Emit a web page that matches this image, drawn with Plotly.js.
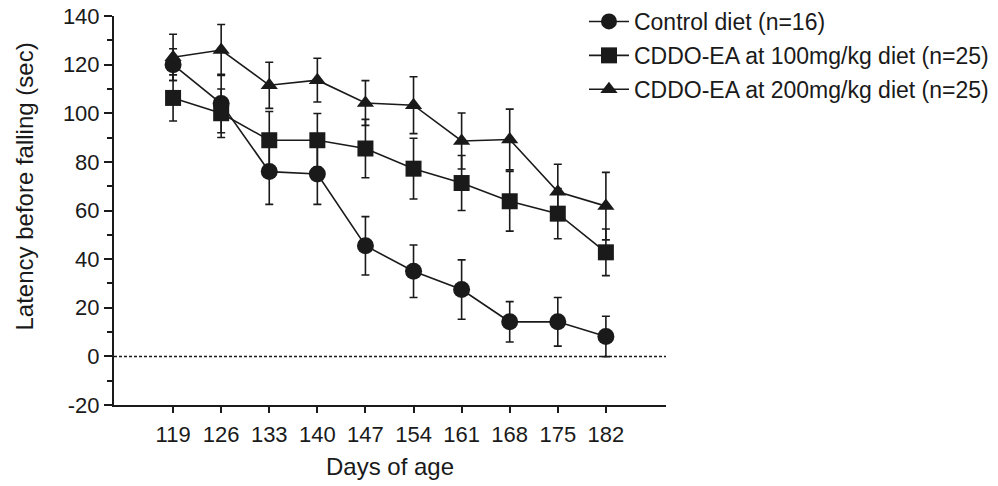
<!DOCTYPE html>
<html>
<head>
<meta charset="utf-8">
<script src="https://cdn.plot.ly/plotly-3.0.1.min.js"></script>
<style>html,body{margin:0;padding:0;background:#fff;}#chart{width:998px;height:486px;}</style>
</head>
<body>
<div id="chart"></div>
<script>
const days = [119, 126, 133, 140, 147, 154, 161, 168, 175, 182];
const tickLabels = ["119", "126", "133", "140", "147", "154", "161", "168", "175", "182"];
const yTickVals = [-20, 0, 20, 40, 60, 80, 100, 120, 140];
const yTickLabels = ["-20", "0", "20", "40", "60", "80", "100", "120", "140"];
const yMinorVals = [-10, 10, 30, 50, 70, 90, 110, 130];
const xTitle = "Days of age";
const yTitle = "Latency before falling (sec)";

const controlName = "Control diet (n=16)";
const controlMean = [120, 104, 76, 75, 45.5, 35, 27.5, 14.2, 14.2, 8.2];
const controlErr  = [6.5, 12, 13.5, 12.5, 12, 10.8, 12.2, 8.3, 10, 8.3];

const ea100Name = "CDDO-EA at 100mg/kg diet (n=25)";
const ea100Mean = [106.3, 100, 88.9, 88.9, 85.5, 77.2, 71.3, 63.8, 58.7, 42.8];
const ea100Err  = [9.5, 10, 11.8, 11, 12, 12.5, 11.3, 12.3, 10.3, 9.6];

const ea200Name = "CDDO-EA at 200mg/kg diet (n=25)";
const ea200Mean = [123, 126, 111.5, 113.6, 104.2, 103.3, 88.6, 89.2, 67.7, 61.8];
const ea200Err  = [9.5, 10.5, 9.5, 9, 9.2, 11.7, 11.5, 12.5, 11.3, 13.9];

const ink = "#1a1a1a";
const fontFam = "'Liberation Sans', Arial, sans-serif";

function mk(name, y, err, symbol, size, group) {
  return {
    type: "scatter", mode: "lines+markers", name: name, x: days, y: y,
    legendgroup: group,
    line: {color: ink, width: 1.6},
    marker: {symbol: symbol, size: size, color: ink, line: {width: 0}},
    error_y: {type: "data", array: err, visible: true, color: ink, thickness: 1.6, width: 4},
    cliponaxis: false
  };
}

const data = [
  mk(controlName, controlMean, controlErr, "circle", 17, "g1"),
  mk(ea100Name, ea100Mean, ea100Err, "square", 16, "g2"),
  mk(ea200Name, ea200Mean, ea200Err, "triangle-up", 15, "g3")
];

const layout = {
  width: 998, height: 486,
  margin: {l: 114, r: 332, t: 16, b: 81, pad: 0, autoexpand: false},
  paper_bgcolor: "#fff", plot_bgcolor: "#fff",
  font: {family: fontFam, size: 22, color: ink},
  showlegend: true,
  legend: {
    x: 0.8514, xanchor: "left", y: 1.0411, yanchor: "top",
    font: {family: fontFam, size: 23, color: ink},
    bgcolor: "rgba(0,0,0,0)", tracegroupgap: 1, itemsizing: "trace", itemwidth: 40
  },
  xaxis: {
    range: [110.4, 190.75],
    tickmode: "array", tickvals: days, ticktext: tickLabels,
    showgrid: false, zeroline: false,
    showline: true, linecolor: ink, linewidth: 2,
    ticks: "outside", ticklen: 6, tickwidth: 2, tickcolor: ink,
    ticklabelstandoff: 3,
    tickfont: {family: fontFam, size: 22, color: ink},
    title: {text: xTitle, font: {family: fontFam, size: 24, color: ink}, standoff: 12}
  },
  yaxis: {
    range: [-20, 140],
    tickmode: "array", tickvals: yTickVals, ticktext: yTickLabels,
    showgrid: false, zeroline: false,
    showline: true, linecolor: ink, linewidth: 2,
    ticks: "outside", ticklen: 8, tickwidth: 2, tickcolor: ink,
    minor: {tickmode: "array", tickvals: yMinorVals, ticks: "outside", ticklen: 5, tickwidth: 2, tickcolor: ink, showgrid: false},
    tickfont: {family: fontFam, size: 22, color: ink}
  },
  annotations: [{
    text: yTitle, textangle: -90, showarrow: false,
    xref: "paper", yref: "paper", x: -0.163, y: 0.5617,
    xanchor: "center", yanchor: "middle",
    font: {family: fontFam, size: 24, color: ink}
  }],
  shapes: [{
    type: "line", xref: "paper", x0: 0, x1: 1, yref: "y", y0: 0, y1: 0,
    line: {color: ink, width: 1.5, dash: "3px,2px"}, layer: "below"
  }]
};

Plotly.newPlot("chart", data, layout, {displayModeBar: false, staticPlot: true});
</script>
</body>
</html>
